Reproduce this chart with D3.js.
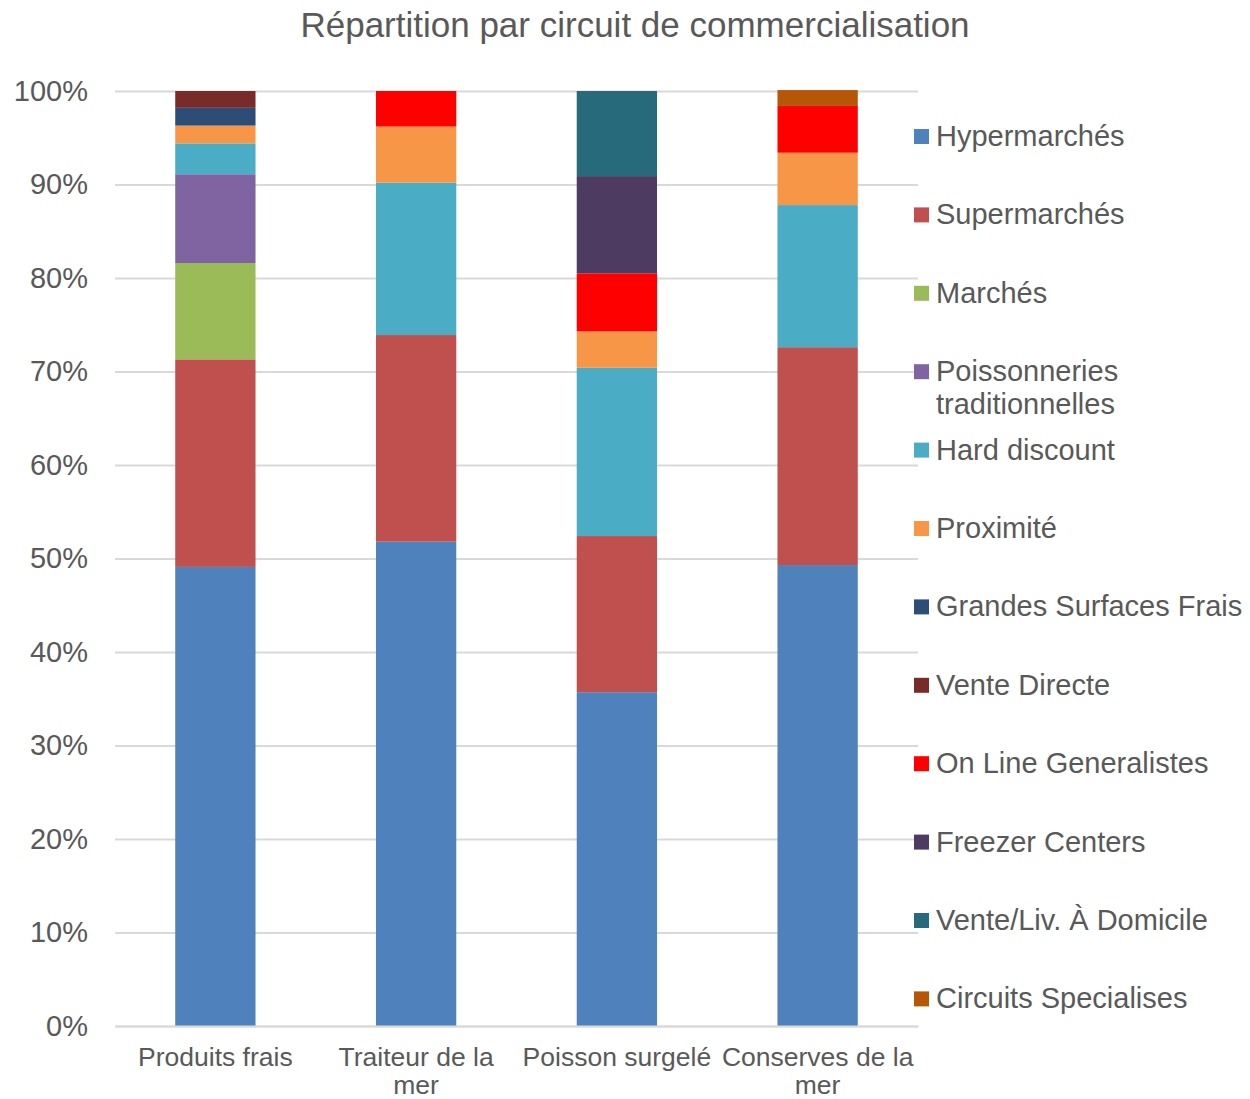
<!DOCTYPE html>
<html>
<head>
  <meta charset="utf-8">
  <script src="https://d3js.org/d3.v7.min.js"></script>
  <style>
    body { margin: 0; background: #fff; font-family: Arial, 'Liberation Sans', sans-serif; }
  </style>
</head>
<body>
  <svg id="chart"></svg>
  <script>
    // Chart data (percentages)
    const categories = ["Produits frais", "Traiteur de la mer", "Poisson surgelé", "Conserves de la mer"];
    const seriesNames = ["Hypermarchés", "Supermarchés", "Marchés", "Poissonneries traditionnelles",
      "Hard discount", "Proximité", "Grandes Surfaces Frais", "Vente Directe",
      "On Line Generalistes", "Freezer Centers", "Vente/Liv. À Domicile", "Circuits Specialises"];
    const seriesColors = ["#4F81BD", "#C0504D", "#9BBB59", "#8064A2", "#4BACC6", "#F79646",
      "#2C4D75", "#772C2A", "#FF0000", "#4D3B62", "#276A7C", "#B65708"];
    const hypermarches  = [49.1, 51.8, 35.7, 49.3];
    const supermarches  = [22.2, 22.1, 16.7, 23.3];
    const marches       = [10.3, 0, 0, 0];
    const poissonneries = [9.5, 0, 0, 0];
    const hardDiscount  = [3.3, 16.3, 18.0, 15.2];
    const proximite     = [1.9, 6.0, 3.9, 5.6];
    const grandesSurf   = [1.9, 0, 0, 0];
    const venteDirecte  = [1.8, 0, 0, 0];
    const onLine        = [0, 3.8, 6.2, 5.0];
    const freezer       = [0, 0, 10.4, 0];
    const venteLiv      = [0, 0, 9.1, 0];
    const circuits      = [0, 0, 0, 1.7];
    const yTicks = [0, 10, 20, 30, 40, 50, 60, 70, 80, 90, 100];

    const seriesValues = [hypermarches, supermarches, marches, poissonneries, hardDiscount, proximite,
      grandesSurf, venteDirecte, onLine, freezer, venteLiv, circuits];

    const width = 1250, height = 1099;
    const marginLeft = 115, marginRight = 332, marginTop = 91, marginBottom = 73;
    const textColor = "#595959";

    const rows = categories.map((c, i) => {
      const r = { category: c };
      seriesNames.forEach((s, j) => r[s] = seriesValues[j][i]);
      return r;
    });
    const stacked = d3.stack().keys(seriesNames)(rows);

    const x = d3.scaleBand()
      .domain(categories)
      .range([marginLeft, width - marginRight])
      .paddingInner(0.6)
      .paddingOuter(0.3);

    const y = d3.scaleLinear()
      .domain([0, 100])
      .range([height - marginBottom, marginTop]);

    const color = d3.scaleOrdinal().domain(seriesNames).range(seriesColors);

    const svg = d3.select("#chart")
      .attr("width", width)
      .attr("height", height)
      .attr("viewBox", [0, 0, width, height]);

    // title
    svg.append("text")
      .attr("x", 635)
      .attr("y", 37)
      .attr("text-anchor", "middle")
      .attr("fill", textColor)
      .style("font-size", "35px")
      .text("Répartition par circuit de commercialisation");

    // gridlines + y axis labels
    svg.append("g")
      .attr("transform", `translate(${marginLeft},0)`)
      .call(d3.axisLeft(y).tickValues(yTicks).tickFormat(d => d + "%")
        .tickSize(-(width - marginLeft - marginRight)).tickPadding(27))
      .call(g => g.select(".domain").remove())
      .call(g => g.selectAll(".tick line").attr("stroke", "#D9D9D9").attr("stroke-width", 2))
      .call(g => g.selectAll(".tick text").attr("fill", textColor)
        .style("font-size", "29px").style("font-family", "Arial, 'Liberation Sans', sans-serif"));

    // bars
    svg.append("g")
      .selectAll("g")
      .data(stacked)
      .join("g")
        .attr("fill", d => color(d.key))
      .selectAll("rect")
      .data(d => d.filter(p => p[1] > p[0]))
      .join("rect")
        .attr("x", d => x(d.data.category))
        .attr("width", x.bandwidth())
        .attr("y", d => y(d[1]))
        .attr("height", d => y(d[0]) - y(d[1]));

    // x axis
    svg.append("g")
      .attr("transform", `translate(0,${height - marginBottom})`)
      .call(d3.axisBottom(x).tickSize(0).tickFormat(""))
      .call(g => g.select(".domain").attr("stroke", "#D9D9D9").attr("stroke-width", 2));

    const catLines = {
      "Produits frais": ["Produits frais"],
      "Traiteur de la mer": ["Traiteur de la", "mer"],
      "Poisson surgelé": ["Poisson surgelé"],
      "Conserves de la mer": ["Conserves de la", "mer"]
    };
    const catLabels = svg.append("g")
      .selectAll("text")
      .data(categories)
      .join("text")
        .attr("x", d => x(d) + x.bandwidth() / 2)
        .attr("y", 1066)
        .attr("text-anchor", "middle")
        .attr("fill", textColor)
        .style("font-size", "26.5px");
    catLabels.selectAll("tspan")
      .data(d => catLines[d])
      .join("tspan")
        .attr("x", function () { return this.parentNode.getAttribute("x"); })
        .attr("dy", (d, i) => i === 0 ? 0 : 28)
        .text(d => d);

    // legend
    const legendLines = {
      "Poissonneries traditionnelles": ["Poissonneries", "traditionnelles"]
    };
    const legend = svg.append("g")
      .selectAll("g")
      .data(seriesNames)
      .join("g")
        .attr("transform", (d, i) => `translate(914,${136 + i * 78.4})`);
    legend.append("rect")
      .attr("x", 0)
      .attr("y", -7)
      .attr("width", 15)
      .attr("height", 15)
      .attr("fill", d => color(d));
    legend.append("text")
      .attr("x", 22)
      .attr("y", 10)
      .attr("fill", textColor)
      .style("font-size", "29px")
      .selectAll("tspan")
      .data(d => legendLines[d] || [d])
      .join("tspan")
        .attr("x", 22)
        .attr("dy", (d, i) => i === 0 ? 0 : 33)
        .text(d => d);
  </script>
</body>
</html>
